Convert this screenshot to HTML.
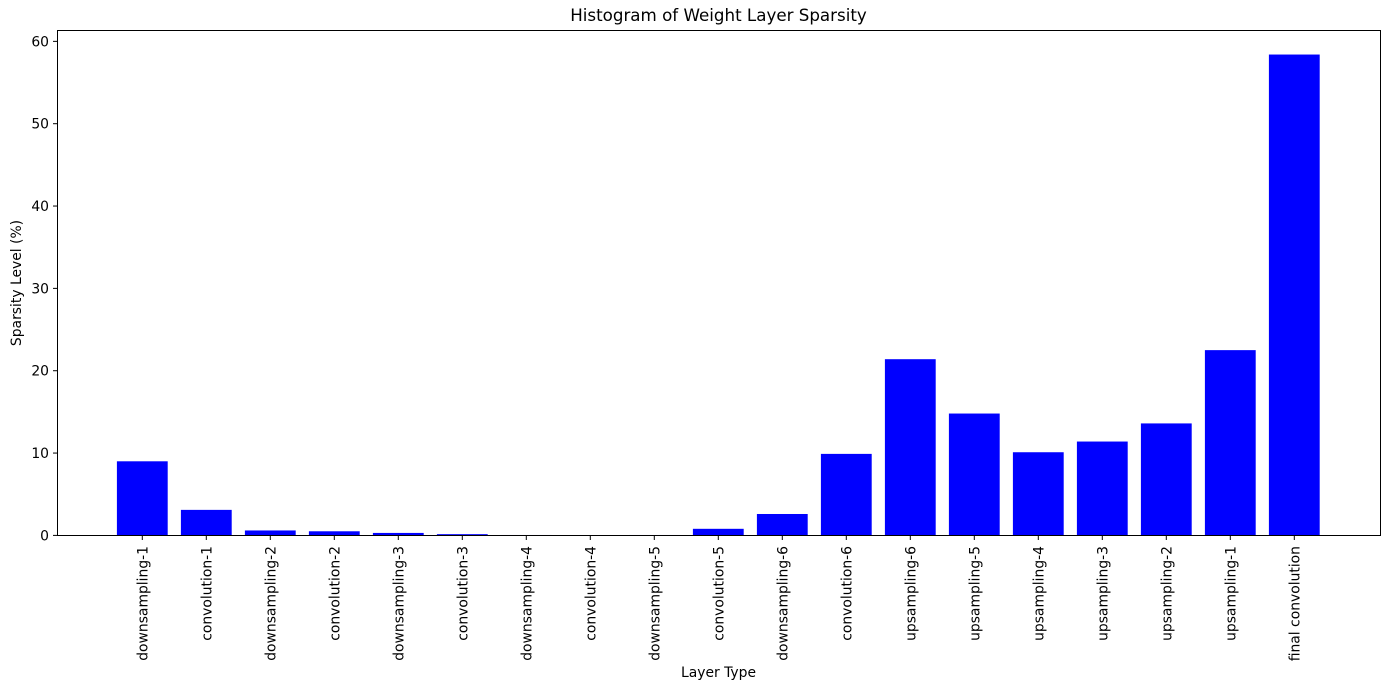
<!DOCTYPE html>
<html><head><meta charset="utf-8"><style>
body{margin:0;background:#fff;}
svg text{font-family:"DejaVu Sans","Liberation Sans",sans-serif;fill:#000;}
</style></head><body>
<svg id="chart" width="1389" height="690" xmlns="http://www.w3.org/2000/svg">
<text x="718.5" y="21" font-size="16.7" text-anchor="middle">Histogram of Weight Layer Sparsity</text>
<text x="718.5" y="677" font-size="13.9" text-anchor="middle">Layer Type</text>
<text transform="translate(21,283) rotate(-90)" font-size="13.9" text-anchor="middle">Sparsity Level (%)</text>
<g id="bars"></g><g id="xt"></g><g id="yt"></g>
<rect x="57.5" y="30.5" width="1323" height="505" fill="none" stroke="#000" stroke-width="1"/>
</svg>
<script>
const categories=["downsampling-1","convolution-1","downsampling-2","convolution-2","downsampling-3","convolution-3","downsampling-4","convolution-4","downsampling-5","convolution-5","downsampling-6","convolution-6","upsampling-6","upsampling-5","upsampling-4","upsampling-3","upsampling-2","upsampling-1","final convolution"];
const values=[9.0,3.1,0.6,0.5,0.3,0.15,0.05,0.03,0.05,0.8,2.6,9.9,21.4,14.8,10.1,11.4,13.6,22.5,58.4];
const yTicks=[0,10,20,30,40,50,60];
const NS="http://www.w3.org/2000/svg";
const x=i=>142.3+i*64;
const y=v=>535.4-v*8.234;
const bars=document.getElementById('bars'),xt=document.getElementById('xt'),yt=document.getElementById('yt');
categories.forEach((c,i)=>{
 const r=document.createElementNS(NS,'rect');
 r.setAttribute('x',x(i)-25.4);r.setAttribute('width',50.8);
 r.setAttribute('y',y(values[i]));r.setAttribute('height',535.4-y(values[i]));
 r.setAttribute('fill','#0000ff');
 
 
 bars.appendChild(r);
 const l=document.createElementNS(NS,'line');
 l.setAttribute('x1',x(i));l.setAttribute('x2',x(i));l.setAttribute('y1',535.5);l.setAttribute('y2',540);l.setAttribute('stroke','#000');
 
 
 xt.appendChild(l);
 const t=document.createElementNS(NS,'text');
 t.setAttribute('transform',`translate(${x(i)+5},546) rotate(-90)`);
 t.setAttribute('text-anchor','end');t.setAttribute('font-size','13.9');t.textContent=c;
 
 
 xt.appendChild(t);
});
yTicks.forEach(v=>{
 const l=document.createElementNS(NS,'line');
 l.setAttribute('x1',53);l.setAttribute('x2',57.5);l.setAttribute('y1',y(v));l.setAttribute('y2',y(v));l.setAttribute('stroke','#000');
 
 
 yt.appendChild(l);
 const t=document.createElementNS(NS,'text');
 t.setAttribute('x',49);t.setAttribute('y',y(v)+5);t.setAttribute('text-anchor','end');t.setAttribute('font-size','13.9');t.textContent=v;
 
 
 yt.appendChild(t);
});
</script>
</body></html>
